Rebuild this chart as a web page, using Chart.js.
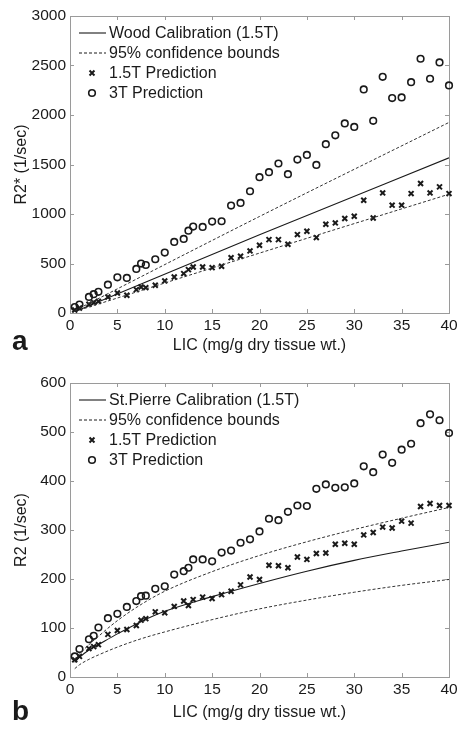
<!DOCTYPE html>
<html>
<head>
<meta charset="utf-8">
<script src="https://cdn.jsdelivr.net/npm/chart.js@4.4.1/dist/chart.umd.min.js"></script>
<style>
  html, body { margin: 0; padding: 0; background: #fff; }
  #wrap { position: relative; width: 469px; height: 730px; }
  canvas { position: absolute; left: 0; }
</style>
</head>
<body>
<div id="wrap">
  <canvas id="chartA" width="469" height="365" style="top:0"></canvas>
  <canvas id="chartB" width="469" height="365" style="top:365px"></canvas>
</div>
<script>
// LIC sample points (mg/g dry tissue wt.)
const licValues = [0.5, 1, 2, 2.5, 3, 4, 5, 6, 7, 7.5, 8, 9, 10, 11, 12, 12.5, 13, 14, 15, 16, 17, 18, 19, 20,
  21, 22, 23, 24, 25, 26, 27, 28, 29, 30, 31, 32, 33, 34, 35, 36, 37, 38, 39, 40];

// panel a: R2*
const r2starPred15T = [30, 50, 88, 105, 118, 162, 202, 179, 236, 263, 256, 280, 324, 364, 398, 438, 465, 465, 458, 472,
  559, 573, 627, 684, 741, 741, 694, 792, 826, 762, 896, 910, 954, 977, 1139, 960, 1213, 1089, 1089, 1206, 1308, 1213, 1274, 1206];
const r2starPred3T = [60, 85, 162, 190, 214, 286, 360, 354, 445, 499, 485, 543, 610, 718, 748, 832, 873, 869, 923, 927,
  1085, 1112, 1230, 1372, 1422, 1510, 1402, 1550, 1597, 1496, 1705, 1795, 1915, 1880, 2258, 1941, 2386, 2171, 2178, 2332, 2568, 2366, 2531, 2299];
const woodLic = [0.5, 20, 40];
const woodCal = [12, 790, 1567];
const woodUpper = [24, 975, 1925];
const woodLower = [15, 605, 1200];

// panel b: R2
const r2Pred15T = [35, 42, 58, 62, 66, 87, 95, 97, 105, 116, 119, 133, 131, 144, 155, 146, 158, 163, 160, 168,
  175, 188, 204, 199, 228, 227, 223, 245, 240, 252, 253, 271, 273, 271, 290, 295, 306, 304, 318, 314, 348, 354, 350, 350];
const r2Pred3T = [42, 57, 77, 84, 101, 120, 129, 143, 155, 165, 166, 180, 185, 209, 216, 223, 240, 240, 236, 254,
  258, 274, 281, 297, 323, 320, 337, 350, 349, 384, 393, 386, 387, 395, 430, 418, 454, 437, 464, 476, 518, 536, 524, 498];
const stPierreLic = [0.5, 1, 2, 3, 5, 7.5, 10, 15, 20, 25, 30, 35, 40];
const stPierreCal = [30, 40, 55, 66, 88, 113, 134, 164, 191, 216, 238, 257, 275];
const stPierreUpper = [36, 47, 66, 83, 115, 148, 175, 215, 248, 276, 301, 324, 346];
const stPierreLower = [17, 25, 36, 45, 61, 78, 92, 117, 139, 157, 173, 187, 199];

const xTicks = [0, 5, 10, 15, 20, 25, 30, 35, 40];

const FONT = "'Liberation Sans', Arial, Helvetica, sans-serif";
const INK = '#1a1a1a';
const FRAME = '#9a9a9a';

function pts(xs, ys) {
  return xs.map((x, i) => ({ x: x, y: ys[i] }));
}

// matlab style box with inward ticks, legend and panel letter
const matlabBox = {
  id: 'matlabBox',
  beforeDatasetsDraw(chart) {
    const { ctx, chartArea: a, scales } = chart;
    ctx.save();
    ctx.strokeStyle = FRAME;
    ctx.lineWidth = 1;
    ctx.strokeRect(a.left + 0.5, a.top + 0.5, a.right - a.left, a.bottom - a.top);
    ctx.beginPath();
    scales.x.ticks.forEach(t => {
      const px = Math.round(scales.x.getPixelForValue(t.value)) + 0.5;
      ctx.moveTo(px, a.bottom); ctx.lineTo(px, a.bottom - 4);
      ctx.moveTo(px, a.top); ctx.lineTo(px, a.top + 4);
    });
    scales.y.ticks.forEach(t => {
      const py = Math.round(scales.y.getPixelForValue(t.value)) + 0.5;
      ctx.moveTo(a.left, py); ctx.lineTo(a.left + 4, py);
      ctx.moveTo(a.right, py); ctx.lineTo(a.right - 4, py);
    });
    ctx.stroke();
    ctx.restore();
  },
  afterDraw(chart, args, opts) {
    const { ctx, chartArea: a } = chart;
    ctx.save();
    ctx.font = '16px ' + FONT;
    ctx.textBaseline = 'middle';
    opts.items.forEach((idx, row) => {
      const ds = chart.data.datasets[idx];
      const y = a.top + 17 + row * 20;
      const x0 = a.left + 9;
      ctx.strokeStyle = INK;
      if (ds.showLine) {
        ctx.lineWidth = ds.borderWidth;
        ctx.setLineDash(ds.borderDash || []);
        ctx.beginPath();
        ctx.moveTo(x0, y); ctx.lineTo(x0 + 27, y);
        ctx.stroke();
        ctx.setLineDash([]);
      } else {
        ctx.lineWidth = ds.borderWidth;
        ctx.fillStyle = 'rgba(0,0,0,0)';
        Chart.helpers.drawPoint(ctx, { pointStyle: ds.pointStyle, radius: ds.pointRadius, borderWidth: ds.borderWidth, rotation: 0 }, x0 + 13, y);
      }
      ctx.fillStyle = INK;
      ctx.fillText(ds.label, x0 + 30, y + 1);
    });
    ctx.font = 'bold 28px ' + FONT;
    ctx.textBaseline = 'alphabetic';
    ctx.fillText(opts.letter, 12, opts.letterY);
    ctx.restore();
  }
};

function makeChart(id, cfg) {
  const lineStyle = { showLine: true, pointRadius: 0, borderColor: INK, borderWidth: 1.1, cubicInterpolationMode: 'monotone' };
  const dashStyle = Object.assign({}, lineStyle, { borderDash: [3, 2], borderColor: '#333', borderWidth: 1 });
  return new Chart(document.getElementById(id), {
    type: 'scatter',
    data: {
      datasets: [
        Object.assign({ label: cfg.calLabel, data: pts(cfg.lineX, cfg.cal) }, lineStyle),
        Object.assign({ label: '95% confidence bounds', data: pts(cfg.lineX, cfg.upper) }, dashStyle),
        Object.assign({ label: '95% lower', data: pts(cfg.lineX, cfg.lower) }, dashStyle),
        { label: '1.5T Prediction', data: pts(licValues, cfg.pred15), pointStyle: 'crossRot', pointRadius: 3.5,
          borderColor: INK, borderWidth: 2, clip: false },
        { label: '3T Prediction', data: pts(licValues, cfg.pred3), pointStyle: 'circle', pointRadius: 3.3,
          borderColor: INK, backgroundColor: 'rgba(0,0,0,0)', borderWidth: 1.6, clip: false }
      ]
    },
    options: {
      responsive: false,
      animation: false,
      layout: { padding: { top: cfg.padTop, right: 20, left: 0, bottom: 0 } },
      plugins: {
        legend: { display: false },
        tooltip: { enabled: false },
        matlabBox: { items: [0, 1, 3, 4], letter: cfg.letter, letterY: cfg.letterY }
      },
      scales: {
        x: {
          type: 'linear', min: 0, max: 40,
          afterBuildTicks: s => { s.ticks = xTicks.map(v => ({ value: v })); },
          afterFit: s => { s.height = cfg.xHeight; },
          grid: { display: false, drawTicks: false },
          border: { display: false },
          ticks: { color: INK, font: { family: FONT, size: 15.5 }, padding: 3, maxRotation: 0,
            callback: v => String(v) },
          title: { display: true, text: 'LIC (mg/g dry tissue wt.)', color: INK, font: { family: FONT, size: 16 },
            padding: { top: 0, bottom: cfg.titlePad } }
        },
        y: {
          min: 0, max: cfg.yMax,
          afterBuildTicks: s => { s.ticks = cfg.yTicks.map(v => ({ value: v })); },
          afterFit: s => { s.width = 70; },
          grid: { display: false, drawTicks: false },
          border: { display: false },
          ticks: { color: INK, font: { family: FONT, size: 15.5 }, padding: 4, callback: v => String(v) },
          title: { display: true, text: cfg.yTitle, color: INK, font: { family: FONT, size: 16 },
            padding: { top: 12, bottom: 0 } }
        }
      }
    },
    plugins: [matlabBox]
  });
}

makeChart('chartA', {
  calLabel: 'Wood Calibration (1.5T)', lineX: woodLic, cal: woodCal, upper: woodUpper, lower: woodLower,
  pred15: r2starPred15T, pred3: r2starPred3T,
  yMax: 3000, yTicks: [0, 500, 1000, 1500, 2000, 2500, 3000], yTitle: 'R2* (1/sec)',
  padTop: 16, xHeight: 52, titlePad: 10, letter: 'a', letterY: 350
});

makeChart('chartB', {
  calLabel: 'St.Pierre Calibration (1.5T)', lineX: stPierreLic, cal: stPierreCal, upper: stPierreUpper, lower: stPierreLower,
  pred15: r2Pred15T, pred3: r2Pred3T,
  yMax: 600, yTicks: [0, 100, 200, 300, 400, 500, 600], yTitle: 'R2 (1/sec)',
  padTop: 18, xHeight: 53, titlePad: 8, letter: 'b', letterY: 355
});
</script>
</body>
</html>
